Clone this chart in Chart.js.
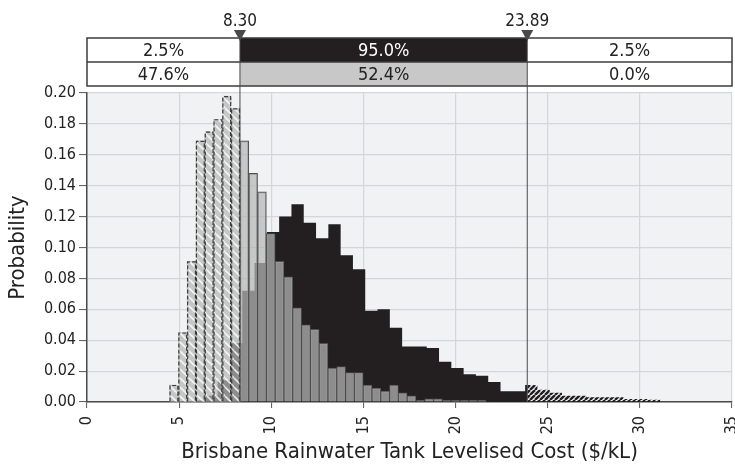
<!DOCTYPE html>
<html>
<head>
<meta charset="utf-8">
<script src="https://cdn.jsdelivr.net/npm/chart.js@4.4.1/dist/chart.umd.min.js"></script>
<style>
  html, body { margin: 0; padding: 0; background: #fff; }
  #wrap { width: 735px; height: 470px; }
</style>
</head>
<body>
<div id="wrap"><canvas id="chart" width="735" height="470"></canvas></div>
<script>
// light histogram (narrow distribution), density per bin
const lightBinStart = 4.48;
const lightBinWidth = 0.4775;
const lightValues = [
  0.011, 0.045, 0.091, 0.169, 0.175, 0.183, 0.198, 0.190,
  0.169, 0.148, 0.136, 0.109, 0.091, 0.081, 0.061, 0.050,
  0.047, 0.038, 0.022, 0.023, 0.019, 0.019, 0.011, 0.009,
  0.007, 0.011, 0.006, 0.004, 0.001, 0.002, 0.002, 0.001,
  0.001, 0.001, 0.001, 0.001
];

// dark histogram (wide distribution)
const darkBinStart = 4.42;
const darkBinWidth = 0.6674;
const darkValues = [
  0.000, 0.000, 0.001, 0.004, 0.014, 0.038, 0.072, 0.090,
  0.110, 0.120, 0.128, 0.116, 0.106, 0.115, 0.095, 0.086,
  0.059, 0.060, 0.048, 0.036, 0.036, 0.035, 0.026, 0.022,
  0.018, 0.017, 0.013, 0.007, 0.007, 0.011, 0.008, 0.006,
  0.004, 0.004, 0.003, 0.003, 0.003, 0.002, 0.002, 0.0015
];

const markers = [8.30, 23.89];
const markerLabels = ["8.30", "23.89"];
const darkBandLabels = ["2.5%", "95.0%", "2.5%"];
const lightBandLabels = ["47.6%", "52.4%", "0.0%"];

const xTicks = [0, 5, 10, 15, 20, 25, 30, 35];
const yTicks = [0, 0.02, 0.04, 0.06, 0.08, 0.10, 0.12, 0.14, 0.16, 0.18, 0.20];

const FONT = '"DejaVu Sans Condensed", "DejaVu Sans", sans-serif';
const INK = "#231f20";
const TEXT = "#222";

function stripes(size, bg, fg, lineW, slash) {
  const c = document.createElement("canvas");
  c.width = c.height = size;
  const g = c.getContext("2d");
  if (bg) {
    g.fillStyle = bg;
    g.fillRect(0, 0, size, size);
  }
  g.strokeStyle = fg;
  g.lineWidth = lineW;
  g.beginPath();
  for (let k = -1; k <= 1; k++) {
    if (slash) {
      g.moveTo(k * size, size);
      g.lineTo(k * size + size, 0);
    } else {
      g.moveTo(k * size, 0);
      g.lineTo(k * size + size, size);
    }
  }
  g.stroke();
  return g.createPattern(c, "repeat");
}

const lightFill = "rgba(182,182,182,0.73)";
const lightHatch = stripes(9, lightFill, "rgba(255,255,255,0.8)", 1.6, false);
const darkHatch = stripes(5, null, INK, 2.4, true);

// stepped outline of a histogram, cut to [from, to]
function stepSegment(start, width, values, from, to) {
  const pts = [];
  let end = null;
  values.forEach((v, i) => {
    const a = start + i * width;
    const lo = Math.max(a, from);
    const hi = Math.min(a + width, to);
    if (hi <= lo) return;
    pts.push({ x: lo, y: v });
    end = hi;
  });
  if (end !== null) pts.push({ x: end, y: 0 });
  return pts;
}

// bar centres of a histogram whose centre lies in [from, to]
function barSegment(start, width, values, from, to) {
  return values
    .map((v, i) => ({ x: start + (i + 0.5) * width, y: v }))
    .filter(p => p.x > from && p.x < to);
}

const [lo, hi] = markers;

const darkStep = (from, to, fill) => ({
  type: "line",
  data: stepSegment(darkBinStart, darkBinWidth, darkValues, from, to),
  stepped: "before",
  fill: "origin",
  backgroundColor: fill,
  borderColor: "transparent",
  borderWidth: 0,
  pointRadius: 0,
  order: 3
});

const plotBackground = {
  id: "plotBackground",
  beforeDraw(chart) {
    const { ctx, chartArea: a } = chart;
    ctx.save();
    ctx.fillStyle = "#fff";
    ctx.fillRect(0, 0, chart.width, chart.height);
    ctx.fillStyle = "#f1f2f4";
    ctx.fillRect(a.left, a.top, a.right - a.left, a.bottom - a.top);
    ctx.restore();
  }
};

const dashedBars = {
  id: "dashedBars",
  afterDatasetsDraw(chart) {
    const meta = chart.getDatasetMeta(0);
    const ctx = chart.ctx;
    ctx.save();
    ctx.strokeStyle = "#3a3a3a";
    ctx.lineWidth = 1.2;
    ctx.setLineDash([4, 2]);
    meta.data.forEach(bar => {
      const l = bar.x - bar.width / 2;
      const r = bar.x + bar.width / 2;
      ctx.beginPath();
      ctx.moveTo(l + 0.5, bar.base);
      ctx.lineTo(l + 0.5, bar.y + 0.5);
      ctx.lineTo(r - 0.5, bar.y + 0.5);
      ctx.lineTo(r - 0.5, bar.base);
      ctx.stroke();
    });
    ctx.restore();
  }
};

const bandTable = {
  id: "bandTable",
  afterDatasetsDraw(chart) {
    const { ctx, chartArea: a, scales } = chart;
    const m = markers.map(v => scales.x.getPixelForValue(v));
    const cols = [a.left, m[0], m[1], a.right];
    const rows = [38, 62, 86];
    ctx.save();

    // row fills
    const fills = [
      ["#fff", INK, "#fff"],
      ["#fff", "#c8c8c8", "#fff"]
    ];
    const texts = [darkBandLabels, lightBandLabels];
    const inks = [[TEXT, "#fff", TEXT], [TEXT, TEXT, TEXT]];
    ctx.font = "18px " + FONT;
    ctx.textAlign = "center";
    ctx.textBaseline = "middle";
    for (let r = 0; r < 2; r++) {
      for (let c = 0; c < 3; c++) {
        ctx.fillStyle = fills[r][c];
        ctx.fillRect(cols[c], rows[r], cols[c + 1] - cols[c], rows[r + 1] - rows[r]);
        ctx.fillStyle = inks[r][c];
        ctx.fillText(texts[r][c], (cols[c] + cols[c + 1]) / 2, (rows[r] + rows[r + 1]) / 2 + 1);
      }
    }

    // borders
    ctx.strokeStyle = "#3c3c3c";
    ctx.lineWidth = 1.5;
    ctx.strokeRect(a.left, rows[0], a.right - a.left, rows[2] - rows[0]);
    ctx.beginPath();
    ctx.moveTo(a.left, rows[1]);
    ctx.lineTo(a.right, rows[1]);
    ctx.stroke();

    // delimiter lines down to the axis
    ctx.strokeStyle = "#4a4a4a";
    ctx.lineWidth = 1;
    m.forEach(x => {
      ctx.beginPath();
      ctx.moveTo(x, rows[0]);
      ctx.lineTo(x, a.bottom);
      ctx.stroke();
    });

    // delimiter handles and values
    ctx.fillStyle = "#4a4a4a";
    m.forEach(x => {
      ctx.beginPath();
      ctx.moveTo(x - 6, 30);
      ctx.lineTo(x + 6, 30);
      ctx.lineTo(x, 41);
      ctx.closePath();
      ctx.fill();
    });
    ctx.fillStyle = TEXT;
    ctx.font = "17px " + FONT;
    ctx.textBaseline = "alphabetic";
    m.forEach((x, i) => ctx.fillText(markerLabels[i], x, 26));
    ctx.restore();
  }
};

new Chart(document.getElementById("chart"), {
  type: "bar",
  data: {
    datasets: [
      {
        data: barSegment(lightBinStart, lightBinWidth, lightValues, -Infinity, lo),
        backgroundColor: lightHatch,
        borderWidth: 0,
        grouped: false,
        barPercentage: 1,
        categoryPercentage: 1,
        order: 1
      },
      {
        data: barSegment(lightBinStart, lightBinWidth, lightValues, lo, hi),
        backgroundColor: lightFill,
        borderColor: "#505050",
        borderWidth: 1,
        grouped: false,
        barPercentage: 1,
        categoryPercentage: 1,
        order: 1
      },
      darkStep(-Infinity, lo, INK),
      darkStep(lo, hi, INK),
      darkStep(hi, Infinity, darkHatch)
    ]
  },
  options: {
    responsive: false,
    animation: false,
    devicePixelRatio: 1,
    layout: { padding: { top: 93, right: 3, left: 0, bottom: 0 } },
    plugins: { legend: { display: false }, tooltip: { enabled: false } },
    scales: {
      x: {
        type: "linear",
        min: 0,
        max: 35,
        offset: false,
        afterBuildTicks: s => { s.ticks = xTicks.map(v => ({ value: v })); },
        afterFit: s => { s.height = 68; s.paddingLeft = 0; s.paddingRight = 0; },
        ticks: {
          autoSkip: false,
          minRotation: 90,
          maxRotation: 90,
          padding: 8,
          color: TEXT,
          font: { family: FONT, size: 16 }
        },
        grid: { offset: false, color: "#d5d6d9", lineWidth: 1.2, tickLength: 6, tickColor: "#555", tickWidth: 1 },
        border: { color: "#4a4a4a", width: 1.5 },
        title: {
          display: true,
          text: "Brisbane Rainwater Tank Levelised Cost ($/kL)",
          color: TEXT,
          font: { family: FONT, size: 22 },
          padding: { top: 0, bottom: 5 }
        }
      },
      y: {
        min: 0,
        max: 0.2,
        afterBuildTicks: s => { s.ticks = yTicks.map(v => ({ value: v })); },
        afterFit: s => { s.width = 87; },
        ticks: {
          padding: 3,
          color: TEXT,
          font: { family: FONT, size: 16 },
          callback: v => v.toFixed(2)
        },
        grid: { color: "#d5d6d9", lineWidth: 1.2, tickLength: 8, tickColor: "#555", tickWidth: 1 },
        border: { color: "#4a4a4a", width: 1.5 },
        title: {
          display: true,
          text: "Probability",
          color: TEXT,
          font: { family: FONT, size: 22 },
          padding: { top: 5, bottom: 0 }
        }
      }
    }
  },
  plugins: [plotBackground, dashedBars, bandTable]
});
</script>
</body>
</html>
